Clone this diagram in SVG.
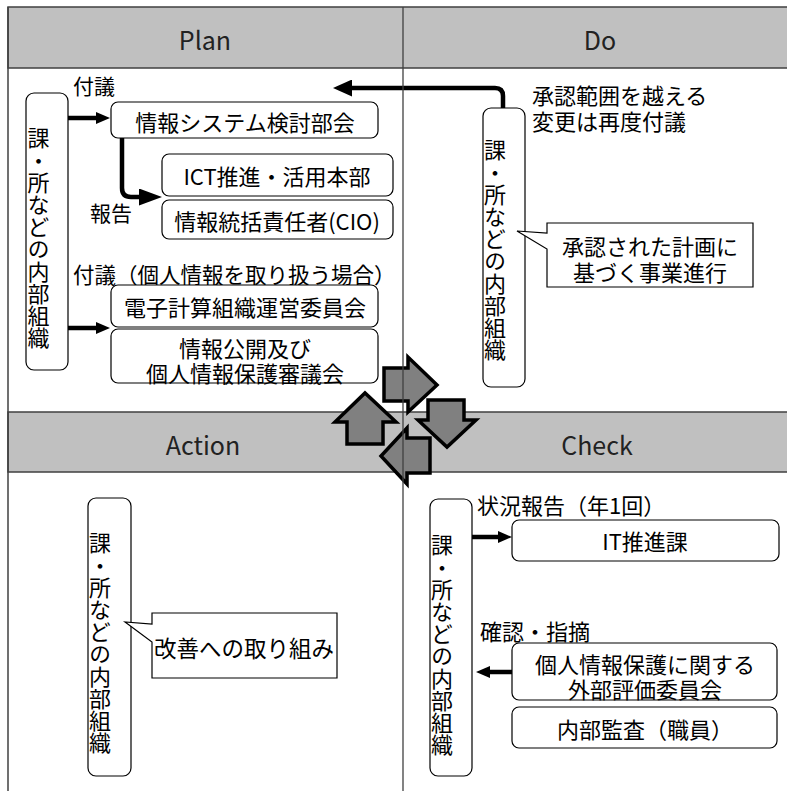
<svg xmlns="http://www.w3.org/2000/svg" width="787" height="791" viewBox="0 0 787 791">
<style>
text{font-family:"Noto Sans CJK JP","Noto Sans",sans-serif;fill:#000;}
.hd{font-size:25px;text-anchor:middle;fill:#222;}
.t{font-size:22px;dominant-baseline:central;}
.c{text-anchor:middle;}
.v{font-size:22px;writing-mode:vertical-rl;letter-spacing:0.2px;}
.box{fill:#fff;stroke:#000;stroke-width:1.2;}
.band{fill:#c0c0c0;stroke:#404040;stroke-width:1.5;}
.grid{stroke:#404040;stroke-width:1.5;fill:none;}
.conn{fill:none;stroke:#000;stroke-width:4.5;}
.pdca{fill:#808080;stroke:#000;stroke-width:3.5;stroke-linejoin:miter;}
</style>
<defs>
<marker id="ahS" markerUnits="userSpaceOnUse" viewBox="0 -6 14 12" markerWidth="14" markerHeight="12" refX="1" refY="0" orient="auto"><path d="M0,-6 L14,0 L0,6 Z" fill="#000"/></marker>
<marker id="ahM" markerUnits="userSpaceOnUse" viewBox="0 -8.5 19 17" markerWidth="19" markerHeight="17" refX="1" refY="0" orient="auto"><path d="M0,-8.5 L19,0 L0,8.5 Z" fill="#000"/></marker>
<marker id="ahL" markerUnits="userSpaceOnUse" viewBox="0 -8.5 23 17" markerWidth="23" markerHeight="17" refX="1" refY="0" orient="auto"><path d="M0,-8.5 L23,0 L0,8.5 Z" fill="#000"/></marker>
</defs>
<rect width="787" height="791" fill="#fff"/>
<g id="frame">
<rect class="band" x="8" y="7" width="800" height="61"/>
<rect class="band" x="8" y="412" width="800" height="60"/>
<line class="grid" x1="8" y1="7" x2="8" y2="791"/>
<text class="hd" x="205" y="50">Plan</text>
<text class="hd" x="600" y="50">Do</text>
<text class="hd" x="203" y="455">Action</text>
<text class="hd" x="597" y="455">Check</text>
</g>
<g id="plan-org">
<rect class="box" x="26" y="93" width="42" height="277" rx="8"/>
<text class="v" x="38.5" y="127">課・所などの内部組織</text>
</g>
<g id="plan-label-fugi"><text class="t" x="73" y="85" style="font-size:21px">付議</text></g>
<g id="plan-syskentou">
<rect class="box" x="111" y="102" width="267" height="36" rx="7"/>
<text class="t c" x="245" y="121">情報システム検討部会</text>
</g>
<g id="plan-ict">
<rect class="box" x="162" y="154" width="231" height="42" rx="7"/>
<text class="t c" x="277" y="175">ICT推進・活用本部</text>
</g>
<g id="plan-cio">
<rect class="box" x="162" y="200" width="231" height="39" rx="7"/>
<text class="t c" x="277" y="220">情報統括責任者(CIO)</text>
</g>
<g id="plan-label-houkoku"><text class="t" x="90" y="212" style="font-size:21px">報告</text></g>
<g id="plan-label-fugi2"><text class="t" x="73" y="273" style="font-size:21.5px">付議（個人情報を取り扱う場合）</text></g>
<g id="plan-denshi">
<rect class="box" x="111" y="285" width="267" height="42" rx="7"/>
<text class="t c" x="245" y="306">電子計算組織運営委員会</text>
</g>
<g id="plan-shingikai">
<rect class="box" x="111" y="329" width="267" height="54" rx="7"/>
<text class="t c"><tspan x="245" y="347">情報公開及び</tspan><tspan x="245" y="372">個人情報保護審議会</tspan></text>
</g>
<g id="do-org">
<rect class="box" x="483" y="108" width="42" height="279" rx="8"/>
<text class="v" x="495" y="139">課・所などの内部組織</text>
</g>
<g id="do-label-refugi">
<text class="t"><tspan x="532" y="94">承認範囲を越える</tspan><tspan x="532" y="120">変更は再度付議</tspan></text>
</g>
<g id="do-callout">
<path class="box" d="M547,223 H753 V287 H547 V249 L517,231 L547,233 Z"/>
<text class="t c"><tspan x="650" y="245">承認された計画に</tspan><tspan x="650" y="271">基づく事業進行</tspan></text>
</g>
<g id="action-org">
<rect class="box" x="88" y="498" width="43" height="278" rx="8"/>
<text class="v" x="100" y="532">課・所などの内部組織</text>
</g>
<g id="action-callout">
<path class="box" d="M152,613 H337 V678 H152 V642 L125,622 L152,624 Z"/>
<text class="t c" x="244" y="647" style="font-size:22.5px">改善への取り組み</text>
</g>
<g id="check-org">
<rect class="box" x="430" y="499" width="42" height="277" rx="8"/>
<text class="v" x="442" y="534">課・所などの内部組織</text>
</g>
<g id="check-label-report"><text class="t" x="477" y="504">状況報告（年1回）</text></g>
<g id="check-it">
<rect class="box" x="512" y="520" width="267" height="41" rx="7"/>
<text class="t c" x="645" y="540">IT推進課</text>
</g>
<g id="check-label-kakunin"><text class="t" x="480" y="630">確認・指摘</text></g>
<g id="check-gaibu">
<rect class="box" x="512" y="643" width="265" height="57" rx="7"/>
<text class="t c"><tspan x="645" y="663">個人情報保護に関する</tspan><tspan x="645" y="688">外部評価委員会</tspan></text>
</g>
<g id="check-kansa">
<rect class="box" x="512" y="707" width="265" height="41" rx="7"/>
<text class="t c" x="645" y="728">内部監査（職員）</text>
</g>
<g id="connectors">
<path class="conn" d="M68,118 H97" marker-end="url(#ahS)"/>
<path class="conn" d="M122,138 V188 Q122,197 131,197 H140" marker-end="url(#ahL)"/>
<path class="conn" d="M68,328 H97" marker-end="url(#ahS)"/>
<path class="conn" d="M503,108 V96 Q503,88 495,88 H351" marker-end="url(#ahM)"/>
<path class="conn" d="M472,537 H499" marker-end="url(#ahS)"/>
<path class="conn" d="M512,672 H489" marker-end="url(#ahS)"/>
</g>
<g id="pdca-arrows">
<polygon class="pdca" points="384,368 408,368 408,357 437,385 408,412 408,401 384,401"/>
<polygon class="pdca" points="428,400 464,400 464,420 476,420 447,447 418,420 428,420"/>
<polygon class="pdca" points="430,438 430,473 407,473 407,484 381,456 407,428 407,438"/>
<polygon class="pdca" points="347,444 383,444 383,422 396,422 365,393 335,422 347,422"/>
</g>
<g id="divider">
<line x1="403" y1="7" x2="403" y2="791" stroke="#404040" stroke-width="1.3"/>
</g>
</svg>
